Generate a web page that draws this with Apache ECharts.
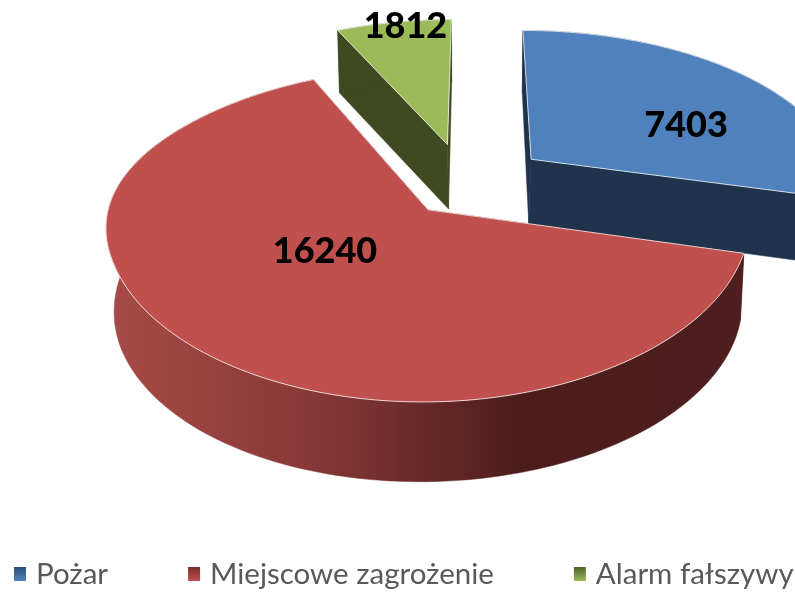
<!DOCTYPE html>
<html>
<head>
<meta charset="utf-8">
<style>html,body{margin:0;padding:0;background:#fff}#main{width:795px;height:595px}</style>
<script src="https://cdn.jsdelivr.net/npm/echarts@6/dist/echarts.min.js"></script>
</head>
<body>
<div id="main"></div>
<script>
// dane z wykresu
const categories = ['Pożar', 'Miejscowe zagrożenie', 'Alarm fałszywy'];
const values = [7403, 16240, 1812];

const topColors = ['#4f81bd', '#c0504d', '#9bbb59'];
const sideColors = ['#1f334d', '#4e1f1e', '#3f4a22'];
const legendTop = ['#2c4d75', '#772c2a', '#4f6228'];
const legendBottom = ['#4f81bd', '#c0504d', '#9bbb59'];

// rzut perspektywiczny kola na ekran
const cx = 475, cy = 181, depth = 65;
// wspolczynniki perspektywy [blisko, daleko]
const perspTopX = [0.1, 0.17], perspTopY = [0.136, 0.17];
const perspBottomX = [0.17, 0.14], perspBottomY = [0.17, 0.17];
const topScale = [313, 157.5], bottomScale = [300, 160];
const explode = 0.231;
const nudgeU = [0, 0, -0.04], nudgeV = [0, 0, 0.015];      // korekta polozenia plasterka
const labelShift = [[155, -34], [-103, 42], [-42, -118]];  // od wierzcholka plasterka, px

const total = values.reduce((a, b) => a + b, 0);

function scaleAt(range, v) {
    const t = Math.min(1, Math.max(0, (v + 0.6) / 1.2));
    const k = range[0] + (range[1] - range[0]) * t * t * (3 - 2 * t);
    return 1 / (1 + k * v);
}

function project(u, v, bottom) {
    const sc = bottom ? bottomScale : topScale;
    const sx = scaleAt(bottom ? perspBottomX : perspTopX, v);
    const sy = scaleAt(bottom ? perspBottomY : perspTopY, v);
    return [cx + sc[0] * u * sx, cy + (bottom ? depth : 0) - sc[1] * v * sy];
}

function sliceGeometry(i) {
    let start = 0;
    for (let k = 0; k < i; k++) start += values[k] / total * Math.PI * 2;
    const end = start + values[i] / total * Math.PI * 2;
    const mid = (start + end) / 2;
    const ou = explode * Math.sin(mid) + nudgeU[i];
    const ov = explode * Math.cos(mid) + nudgeV[i];
    const rim = function (bottom) {
        const pts = [];
        const steps = Math.ceil((end - start) * 40);
        for (let n = 0; n <= steps; n++) {
            const a = start + (end - start) * n / steps;
            pts.push(project(ou + Math.sin(a), ov + Math.cos(a), bottom));
        }
        return pts;
    };
    return {
        apexTop: project(ou, ov, false),
        apexBottom: project(ou, ov, true),
        rimTop: rim(false),
        rimBottom: rim(true)
    };
}

function sideFill(i) {
    if (i !== 1) return sideColors[i];
    return new echarts.graphic.LinearGradient(0, 0, 1, 0, [
        {offset: 0, color: '#a64b47'},
        {offset: 0.3, color: '#8a3a38'},
        {offset: 0.66, color: '#4b1c1a'},
        {offset: 1, color: sideColors[1]}
    ]);
}

function renderSlice(i) {
    return function () {
        const g = sliceGeometry(i);
        const n = g.rimTop.length - 1;
        const poly = function (points, fill, stroke) {
            return {
                type: 'polygon',
                shape: {points: points},
                style: stroke
                    ? {fill: fill, stroke: 'rgba(255,255,255,0.75)', lineWidth: 1, lineJoin: 'round'}
                    : {fill: fill, stroke: fill, lineWidth: 0.5}
            };
        };
        return {
            type: 'group',
            children: [
                poly([g.apexTop, g.rimTop[0], g.rimBottom[0], g.apexBottom], sideColors[i]),
                poly([g.apexTop, g.rimTop[n], g.rimBottom[n], g.apexBottom], sideColors[i]),
                poly(g.rimTop.concat(g.rimBottom.slice().reverse()), sideFill(i)),
                poly([g.apexTop].concat(g.rimTop), topColors[i], true),
                {
                    type: 'text',
                    z2: 100,
                    style: {
                        x: g.apexTop[0] + labelShift[i][0],
                        y: g.apexTop[1] + labelShift[i][1],
                        text: String(values[i]),
                        fill: '#000',
                        font: '900 36px Lato',
                        align: 'center',
                        verticalAlign: 'middle'
                    }
                }
            ]
        };
    };
}

const chart = echarts.init(document.getElementById('main'), null, {renderer: 'canvas'});
chart.setOption({
    animation: false,
    legend: {
        left: 14,
        top: 559,
        padding: 0,
        itemWidth: 12,
        itemHeight: 14,
        itemGap: 80,
        icon: 'rect',
        textStyle: {
            fontFamily: 'Lato',
            fontSize: 29.5,
            color: '#595959',
            padding: [0, 0, 0, 5]
        },
        data: categories.map(function (name, i) {
            return {
                name: name,
                itemStyle: {
                    color: new echarts.graphic.LinearGradient(0, 0, 0, 1, [
                        {offset: 0, color: legendTop[i]},
                        {offset: 1, color: legendBottom[i]}
                    ])
                }
            };
        })
    },
    series: categories.map(function (name, i) {
        return {
            type: 'custom',
            name: name,
            coordinateSystem: 'none',
            silent: true,
            itemStyle: {color: topColors[i]},
            data: [values[i]],
            renderItem: renderSlice(i)
        };
    })
});
</script>
</body>
</html>
